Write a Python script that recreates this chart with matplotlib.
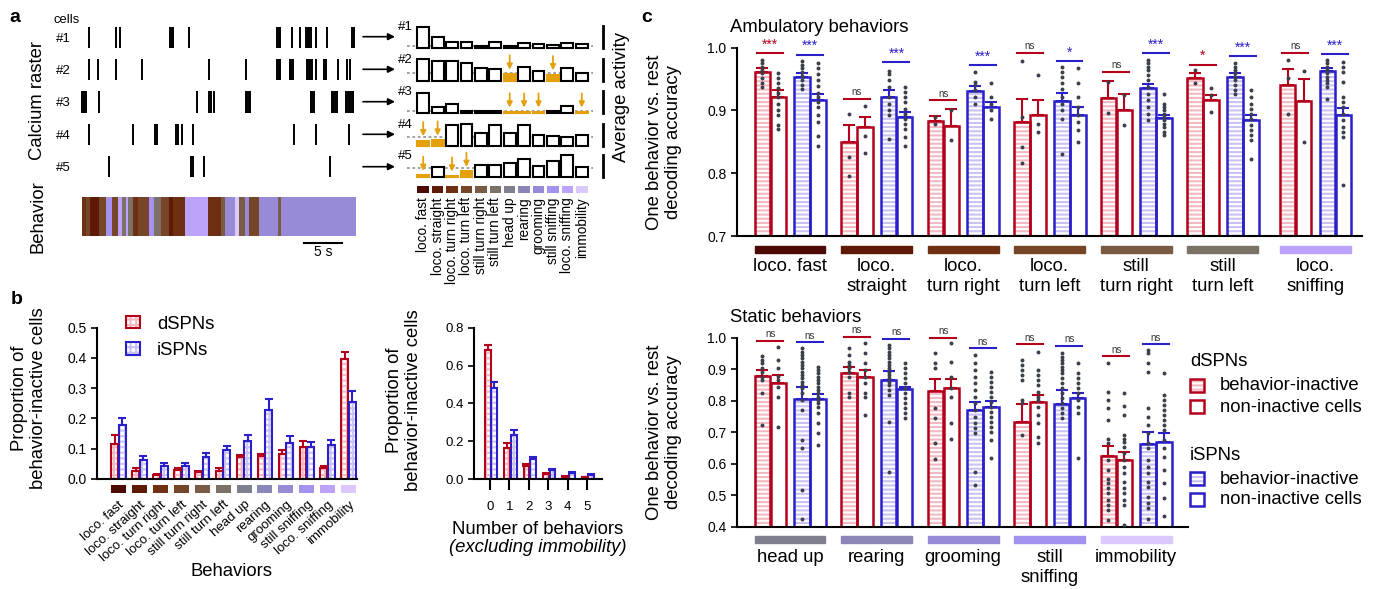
import numpy as np
import matplotlib
matplotlib.use('Agg')
import matplotlib.pyplot as plt
from matplotlib.patches import Patch, Rectangle

plt.rcParams['font.family'] = ['Liberation Sans', 'DejaVu Sans']
plt.rcParams['hatch.linewidth'] = 1.5

W, H = 1377, 589

RED = '#b5001c'
BLUE = '#2b1fc9'
PINK = '#f3b9c1'
LAV = '#c9c2f3'
DOT = '#3b404b'
ORANGE = '#e5a00d'
FS = 13.3

behaviors = ['loco. fast', 'loco. straight', 'loco. turn right', 'loco. turn left',
             'still turn right', 'still turn left', 'head up', 'rearing', 'grooming',
             'still sniffing', 'loco. sniffing', 'immobility']
behavior_colors = ['#4b0a02', '#5e1a06', '#6e2f12', '#774628', '#7a5c44', '#7c7166',
                   '#7e8090', '#8a86b8', '#978bd8', '#a591f0', '#bca2f8', '#dcc9fc']

# ---- panel a: raster (seconds)
cell_labels = ['#1', '#2', '#3', '#4', '#5']
spike_times = [
    [1.05, 4.55, 5.1, 11.7, 11.9, 12.1, 14.15, 25.7, 25.9, 26.1, 27.6, 28.7,
     29.5, 29.7, 29.9, 30.1, 30.7, 32.2, 35.45, 35.7],
    [1.05, 2.2, 4.6, 8.05, 16.8, 21.6, 25.7, 25.9, 26.1, 27.35, 27.55, 27.75,
     29.6, 29.8, 30.0, 30.2, 30.7, 31.8, 32.1, 33.6, 34.8, 35.2],
    [0.05, 0.25, 0.45, 0.65, 2.4, 15.25, 16.8, 17.05, 17.35, 21.55, 21.75, 21.95, 22.1,
     30.1, 30.3, 30.55, 32.8, 33.05, 33.3, 33.45, 34.75, 35.0, 35.25, 35.5, 35.65],
    [1.1, 6.8, 9.7, 10.0, 12.45, 12.75, 13.2, 14.7, 27.9, 30.8, 35.05],
    [3.7, 14.45, 14.65, 16.1, 32.55],
]
behavior_starts = [0.13, 0.66, 1.18, 2.36, 3.28, 4.06, 4.85, 5.37, 5.90, 6.16, 6.82, 7.47,
                   8.91, 9.57, 10.48, 11.53, 12.06, 13.63, 16.64, 18.35, 18.87, 20.18,
                   20.71, 21.49, 22.02, 23.33, 25.82, 26.21]
behavior_ids = [2, 3, 1, 3, 9, 3, 10, 5, 10, 5, 2, 3, 9, 5, 3, 1, 2, 10, 2, 4, 8, 11,
                4, 8, 3, 8, 4, 8]
session_end = 36.04

# ---- panel a: average activity per behavior (normalized)
avg_activity = [
    [0.95, 0.50, 0.24, 0.27, 0.09, 0.24, 0.09, 0.23, 0.18, 0.12, 0.20, 0.17],
    [0.97, 0.91, 0.91, 0.82, 0.58, 0.52, 0.30, 0.64, 0.42, 0.27, 0.58, 0.33],
    [0.94, 0.30, 0.42, 0.09, 0.12, 0.12, 0.06, 0.06, 0.06, 0.09, 0.33, 0.06],
    [0.24, 0.27, 0.94, 1.00, 0.61, 0.97, 0.61, 0.94, 0.48, 0.45, 0.42, 0.52],
    [0.09, 0.48, 0.06, 0.27, 0.58, 0.55, 0.64, 0.82, 0.52, 0.73, 1.00, 0.48],
]
inactive_idx = [[], [6, 9], [6, 7, 8, 11], [0, 1], [0, 2, 3]]
activity_threshold = [0.09, 0.33, 0.10, 0.42, 0.41]

# ---- panel b
d_prop = [0.115, 0.028, 0.012, 0.030, 0.022, 0.027, 0.072, 0.075, 0.082, 0.107, 0.035, 0.395]
d_prop_err = [0.030, 0.007, 0.006, 0.007, 0.006, 0.008, 0.008, 0.007, 0.013, 0.018, 0.007, 0.025]
i_prop = [0.178, 0.062, 0.042, 0.044, 0.073, 0.095, 0.125, 0.228, 0.120, 0.106, 0.112, 0.255]
i_prop_err = [0.025, 0.013, 0.010, 0.009, 0.012, 0.015, 0.022, 0.037, 0.023, 0.016, 0.016, 0.037]

n_behaviors = [0, 1, 2, 3, 4, 5]
d_nb = [0.680, 0.165, 0.068, 0.025, 0.012, 0.008]
d_nb_err = [0.030, 0.025, 0.010, 0.007, 0.003, 0.002]
i_nb = [0.480, 0.235, 0.105, 0.045, 0.030, 0.020]
i_nb_err = [0.035, 0.023, 0.010, 0.010, 0.005, 0.005]

# ---- panel c: order per group = d inactive, d non-inactive, i inactive, i non-inactive
amb_labels = ['loco. fast', 'loco.\nstraight', 'loco.\nturn right', 'loco.\nturn left',
              'still\nturn right', 'still\nturn left', 'loco.\nsniffing']
amb_ids = [0, 1, 2, 3, 4, 5, 10]
amb_mean = [[0.962, 0.922, 0.954, 0.916],
            [0.850, 0.873, 0.922, 0.890],
            [0.884, 0.876, 0.931, 0.905],
            [0.881, 0.893, 0.915, 0.893],
            [0.920, 0.901, 0.935, 0.888],
            [0.952, 0.917, 0.953, 0.885],
            [0.941, 0.915, 0.963, 0.893]]
amb_err = [[0.005, 0.011, 0.005, 0.010],
           [0.027, 0.017, 0.010, 0.008],
           [0.007, 0.026, 0.008, 0.008],
           [0.037, 0.023, 0.013, 0.012],
           [0.027, 0.025, 0.007, 0.005],
           [0.008, 0.008, 0.007, 0.007],
           [0.025, 0.035, 0.004, 0.011]]
amb_dots = [
    [[0.980, 0.975, 0.970, 0.964, 0.959, 0.951, 0.943, 0.937],
     [0.959, 0.951, 0.943, 0.936, 0.928, 0.921, 0.911, 0.901, 0.893, 0.877, 0.870],
     [0.979, 0.972, 0.967, 0.962, 0.955, 0.948, 0.941, 0.934],
     [0.975, 0.967, 0.958, 0.948, 0.939, 0.928, 0.922, 0.913, 0.905, 0.893, 0.881, 0.859, 0.844]],
    [[0.894, 0.826, 0.795],
     [0.907, 0.860, 0.833],
     [0.963, 0.958, 0.948, 0.938, 0.922, 0.911, 0.901, 0.893, 0.854],
     [0.938, 0.930, 0.922, 0.914, 0.903, 0.895, 0.887, 0.879, 0.871, 0.858, 0.844]],
    [[0.890, 0.878],
     [0.901, 0.853],
     [0.962, 0.946, 0.941, 0.933, 0.922, 0.911],
     [0.943, 0.922, 0.911, 0.901, 0.887]],
    [[0.979, 0.890, 0.841, 0.817],
     [0.956, 0.879, 0.866],
     [0.969, 0.962, 0.954, 0.944, 0.934, 0.922, 0.911, 0.901, 0.887, 0.831],
     [0.967, 0.943, 0.922, 0.906, 0.893, 0.882, 0.869, 0.849]],
    [[0.945, 0.896],
     [0.925, 0.877],
     [0.980, 0.975, 0.970, 0.964, 0.956, 0.948, 0.938, 0.927, 0.917, 0.906, 0.895, 0.885],
     [0.927, 0.911, 0.906, 0.901, 0.895, 0.890, 0.885, 0.879, 0.874, 0.866, 0.861]],
    [[0.964, 0.943],
     [0.935, 0.925, 0.898],
     [0.975, 0.970, 0.964, 0.959, 0.954, 0.948, 0.941, 0.933, 0.927],
     [0.933, 0.922, 0.911, 0.903, 0.895, 0.887, 0.877, 0.869, 0.861, 0.853, 0.822]],
    [[0.980, 0.951, 0.895],
     [0.963, 0.850],
     [0.980, 0.975, 0.970, 0.964, 0.959, 0.954, 0.948, 0.943, 0.938, 0.919],
     [0.978, 0.970, 0.962, 0.946, 0.922, 0.914, 0.906, 0.895, 0.885, 0.874, 0.866, 0.858, 0.782]],
]
amb_sig_y = [[0.991, 0.989], [0.919, 0.977], [0.916, 0.972], [0.992, 0.979],
             [0.962, 0.992], [0.973, 0.986], [0.992, 0.990]]
amb_sig = [['***', '***'], ['ns', '***'], ['ns', '***'], ['ns', '*'],
           ['ns', '***'], ['*', '***'], ['ns', '***']]

sta_labels = ['head up', 'rearing', 'grooming', 'still\nsniffing', 'immobility']
sta_ids = [6, 7, 8, 9, 11]
sta_mean = [[0.878, 0.855, 0.804, 0.804],
            [0.889, 0.876, 0.866, 0.836],
            [0.832, 0.841, 0.772, 0.781],
            [0.733, 0.797, 0.788, 0.810],
            [0.625, 0.612, 0.662, 0.670]]
sta_err = [[0.021, 0.026, 0.038, 0.016],
           [0.019, 0.021, 0.029, 0.008],
           [0.036, 0.028, 0.023, 0.019],
           [0.055, 0.021, 0.046, 0.015],
           [0.032, 0.024, 0.038, 0.028]]
sta_dots = [
    [[0.942, 0.929, 0.919, 0.903, 0.892, 0.876, 0.866, 0.825, 0.723],
     [0.971, 0.929, 0.903, 0.878, 0.866, 0.844, 0.813, 0.717],
     [0.966, 0.956, 0.945, 0.935, 0.924, 0.913, 0.903, 0.892, 0.881, 0.871, 0.860, 0.850,
      0.839, 0.823, 0.802, 0.770, 0.675, 0.649, 0.516, 0.426],
     [0.908, 0.897, 0.887, 0.876, 0.866, 0.855, 0.844, 0.834, 0.823, 0.813, 0.802, 0.792,
      0.781, 0.760, 0.728, 0.699, 0.659]],
    [[0.966, 0.945, 0.924, 0.913, 0.903, 0.892, 0.876, 0.823, 0.813],
     [0.982, 0.950, 0.919, 0.897, 0.876, 0.855, 0.823, 0.813, 0.754],
     [0.977, 0.966, 0.956, 0.945, 0.935, 0.924, 0.913, 0.903, 0.892, 0.881, 0.871, 0.860,
      0.850, 0.834, 0.818, 0.733, 0.575],
     [0.919, 0.903, 0.887, 0.871, 0.855, 0.839, 0.823, 0.807, 0.792, 0.776, 0.760, 0.744]],
    [[0.950, 0.919, 0.903, 0.776, 0.744, 0.665, 0.614],
     [0.982, 0.924, 0.876, 0.839, 0.813, 0.730, 0.677],
     [0.945, 0.919, 0.897, 0.876, 0.855, 0.834, 0.813, 0.792, 0.770, 0.749, 0.728, 0.712,
      0.696, 0.575, 0.532],
     [0.892, 0.876, 0.860, 0.844, 0.829, 0.813, 0.797, 0.781, 0.765, 0.749, 0.733, 0.717,
      0.702, 0.675, 0.617]],
    [[0.929, 0.913, 0.897, 0.881, 0.866, 0.802, 0.792, 0.691],
     [0.956, 0.897, 0.881, 0.866, 0.850, 0.829, 0.813, 0.802, 0.781, 0.754, 0.728, 0.686, 0.665],
     [0.950, 0.940, 0.929, 0.919, 0.908, 0.897, 0.887, 0.871, 0.855, 0.839, 0.823, 0.807,
      0.792, 0.776, 0.760, 0.744],
     [0.919, 0.887, 0.871, 0.855, 0.839, 0.823, 0.802, 0.781, 0.760, 0.617]],
    [[0.919, 0.829, 0.802, 0.776, 0.739, 0.680, 0.665, 0.612, 0.580, 0.553, 0.538, 0.522,
      0.506, 0.485, 0.469, 0.453, 0.421],
     [0.825, 0.783, 0.754, 0.691, 0.680, 0.670, 0.654, 0.633, 0.612, 0.590, 0.569, 0.543,
      0.522, 0.506, 0.485, 0.469, 0.405],
     [0.961, 0.950, 0.919, 0.892, 0.776, 0.749, 0.723, 0.696, 0.665, 0.649, 0.612, 0.590,
      0.569, 0.543, 0.527, 0.495, 0.474, 0.458, 0.426],
     [0.887, 0.818, 0.802, 0.786, 0.770, 0.754, 0.739, 0.723, 0.707, 0.675, 0.649, 0.622,
      0.580, 0.538, 0.490, 0.434]],
]
sta_sig_y = [[0.990, 0.985], [1.003, 0.997], [1.000, 0.966], [0.980, 0.975], [0.942, 0.980]]
sta_sig = [['ns', 'ns']] * 5


fig = plt.figure(figsize=(W / 100, H / 100), dpi=100)


def add_ax(x0, y0, x1, y1):
    """Axes from pixel box (top-left origin)."""
    return fig.add_axes([x0 / W, 1 - y1 / H, (x1 - x0) / W, (y1 - y0) / H])


def clean(ax):
    for s in ax.spines.values():
        s.set_visible(False)


# ================= panel a, raster =================
ax = add_ax(81, 21, 356, 183)
ax.eventplot(spike_times, lineoffsets=np.arange(5) + 0.5, linelengths=0.66,
             linewidths=1.4, colors='black')
ax.set_xlim(0, 36)
ax.set_ylim(5, 0)
ax.set_yticks(np.arange(5) + 0.5, cell_labels)
ax.tick_params(left=False, bottom=False, labelbottom=False, labelsize=9.5, pad=4)
clean(ax)

ax = add_ax(81, 197, 356, 236)
ends = behavior_starts[1:] + [session_end]
ax.barh(0.5, np.subtract(ends, behavior_starts), left=behavior_starts, height=1,
        color=[behavior_colors[i] for i in behavior_ids])
ax.set_xlim(0, 36)
ax.set_ylim(0, 1)
ax.axis('off')
ax.plot([29.2, 34.2], [-0.18, -0.18], color='black', lw=1.5, clip_on=False)
ax.text(31.7, -0.42, '5 s', ha='center', va='center', fontsize=10)

# ================= panel a, average activity =================
row_base = [47.7, 80.7, 113.3, 146, 177.3]
for r in range(5):
    ax = add_ax(416, row_base[r] - 25.3, 589, row_base[r])
    x = np.arange(12)
    face = ['white'] * 12
    edge = ['black'] * 12
    for i in inactive_idx[r]:
        face[i] = ORANGE
        edge[i] = ORANGE
    ax.plot([-1.1, 11.8], [activity_threshold[r]] * 2, color='#9a9a9a', lw=1.3,
            ls=(0, (1.5, 1.5)), clip_on=False, zorder=0.5)
    ax.bar(x, avg_activity[r], width=0.82, facecolor=face, edgecolor=edge, lw=1.5,
           clip_on=False, zorder=2)
    for i in inactive_idx[r]:
        tip = avg_activity[r][i] + 0.2
        ax.annotate('', xy=(i, tip), xytext=(i, tip + 0.65),
                    arrowprops=dict(arrowstyle='-|>', color=ORANGE, lw=1.3,
                                    mutation_scale=8, shrinkA=0, shrinkB=0))
    ax.plot([12.5, 12.5], [0, 1], color='black', lw=2, clip_on=False)
    ax.text(-1.25, 0.95, cell_labels[r], ha='center', va='center', fontsize=9.5)
    ax.set_xlim(-0.5, 11.5)
    ax.set_ylim(0, 1.15)
    ax.axis('off')

ax = add_ax(416, 186, 589, 193)
ax.bar(np.arange(12), 1, width=0.8, color=behavior_colors)
ax.set_xlim(-0.5, 11.5)
ax.set_ylim(0, 1)
ax.set_xticks(np.arange(12), behaviors, rotation=90, fontsize=9.8)
ax.set_yticks([])
ax.tick_params(axis='x', length=0, pad=3)
clean(ax)


# ================= panel b =================
def hatched_bar(ax, x, h, w, stripe, edge, hatch, lw, bottom=0):
    ax.bar(x, h, width=w, bottom=bottom, facecolor='white', edgecolor=stripe,
           hatch=hatch, lw=0, zorder=1)
    ax.bar(x, h, width=w, bottom=bottom, fill=False, edgecolor=edge, lw=lw, zorder=2)


def style_axes(ax):
    ax.spines['top'].set_visible(False)
    ax.spines['right'].set_visible(False)
    ax.spines['left'].set_linewidth(1.5)
    ax.spines['bottom'].set_linewidth(1.5)


ax = add_ax(97, 327.7, 357, 479)
xb = np.arange(12)
hatched_bar(ax, xb - 0.18, d_prop, 0.33, PINK, RED, '+++', 1.5)
hatched_bar(ax, xb + 0.18, i_prop, 0.33, LAV, BLUE, '+++', 1.5)
ax.errorbar(xb - 0.18, d_prop, yerr=[np.zeros(12), d_prop_err], fmt='none', ecolor=RED,
            elinewidth=1.5, capsize=3, capthick=1.5, zorder=3)
ax.errorbar(xb + 0.18, i_prop, yerr=[np.zeros(12), i_prop_err], fmt='none', ecolor=BLUE,
            elinewidth=1.5, capsize=3, capthick=1.5, zorder=3)
ax.set_xlim(-1.03, 11.4)
ax.set_ylim(0, 0.5)
ax.set_yticks(np.arange(0, 0.51, 0.1), ['0.0', '0.1', '0.2', '0.3', '0.4', '0.5'])
ax.set_xticks([])
ax.tick_params(axis='y', labelsize=10, length=4, width=1.2)
style_axes(ax)
handles = [(Patch(facecolor='white', edgecolor=PINK, hatch='+++', lw=0),
            Patch(facecolor='none', edgecolor=RED, lw=1.5)),
           (Patch(facecolor='white', edgecolor=LAV, hatch='+++', lw=0),
            Patch(facecolor='none', edgecolor=BLUE, lw=1.5))]
ax.legend(handles, ['dSPNs', 'iSPNs'], loc='upper left', bbox_to_anchor=(0.11, 1.08),
          frameon=False, fontsize=FS, handlelength=0.8, handleheight=0.65,
          handletextpad=0.9, labelspacing=0.5, borderpad=0, borderaxespad=0)

ax = add_ax(97, 485, 357, 493)
ax.bar(xb, 1, width=0.72, color=behavior_colors)
ax.set_xlim(-1.03, 11.4)
ax.set_ylim(0, 1)
ax.set_xticks(xb, behaviors, rotation=42, ha='right', rotation_mode='anchor', fontsize=9.5)
ax.set_yticks([])
ax.tick_params(axis='x', length=0, pad=4)
clean(ax)

ax = add_ax(474, 327.7, 602, 479)
xn = np.array(n_behaviors)
hatched_bar(ax, xn - 0.12, d_nb, 0.3, PINK, RED, '+++', 1.5)
hatched_bar(ax, xn + 0.22, i_nb, 0.3, LAV, BLUE, '+++', 1.5)
ax.errorbar(xn - 0.12, d_nb, yerr=[np.zeros(6), d_nb_err], fmt='none', ecolor=RED,
            elinewidth=1.5, capsize=3, capthick=1.5, zorder=3)
ax.errorbar(xn + 0.22, i_nb, yerr=[np.zeros(6), i_nb_err], fmt='none', ecolor=BLUE,
            elinewidth=1.5, capsize=3, capthick=1.5, zorder=3)
ax.set_xlim(-0.82, 5.77)
ax.set_ylim(0, 0.8)
ax.set_yticks([0, 0.2, 0.4, 0.6, 0.8], ['0.0', '0.2', '0.4', '0.6', '0.8'])
ax.set_xticks(xn)
ax.tick_params(axis='y', labelsize=9.5, length=4, width=1.2)
ax.tick_params(axis='x', labelsize=9.5, length=8, width=1.5, pad=8)
style_axes(ax)


# ================= panel c =================
bar_offsets = [-0.32, -0.135, 0.14, 0.325]


def draw_decoding(ax, pos, means, errs, dots, sig_y, sig_txt, ids, labels, ymin,
                  strip_y):
    for g, x0 in enumerate(pos):
        for k in range(4):
            x = x0 + bar_offsets[k]
            col = RED if k < 2 else BLUE
            h = means[g][k] - ymin
            if k % 2 == 0:
                ax.bar(x, h, bottom=ymin, width=0.18, facecolor='white',
                       edgecolor=PINK if k < 2 else LAV, hatch='----', lw=0, zorder=1)
            ax.bar(x, h, bottom=ymin, width=0.18, fill=False, edgecolor=col, lw=1.8,
                   zorder=2)
            ax.errorbar(x, means[g][k], yerr=[[0], [errs[g][k]]], fmt='none', ecolor=col,
                        elinewidth=1.5, capsize=4, capthick=1.5, zorder=3)
            ax.scatter(np.full(len(dots[g][k]), x), dots[g][k], s=8, color=DOT, lw=0,
                       zorder=4)
        for j, col in enumerate([RED, BLUE]):
            xa = x0 - 0.38 if j == 0 else x0 + 0.08
            ax.plot([xa, xa + 0.3], [sig_y[g][j]] * 2, color=col, lw=1.5, clip_on=False)
            txt = sig_txt[g][j]
            ax.annotate(txt, (xa + 0.15, sig_y[g][j]), xytext=(0, 1),
                        textcoords='offset points', ha='center', va='bottom',
                        fontsize=7 if txt == 'ns' else 10,
                        color='#333333' if txt == 'ns' else col, annotation_clip=False)
        ax.add_patch(Rectangle((x0 - 0.41, strip_y[0]), 0.82, strip_y[1],
                               transform=ax.get_xaxis_transform(),
                               color=behavior_colors[ids[g]], clip_on=False))
    ax.set_xticks(pos, labels)
    ax.tick_params(axis='x', length=0, pad=16, labelsize=FS)
    ax.tick_params(axis='y', labelsize=10, length=4, width=1.2)
    style_axes(ax)


ax = add_ax(736.7, 47.7, 1362, 236)
amb_pos = [0, 1, 2, 3, 4, 5, 6.07]
draw_decoding(ax, amb_pos, amb_mean, amb_err, amb_dots, amb_sig_y, amb_sig, amb_ids,
              amb_labels, 0.7, (-0.09, 0.037))
ax.set_xlim(-0.616, 6.61)
ax.set_ylim(0.7, 1.0)
ax.set_yticks([0.7, 0.8, 0.9, 1.0], ['0.7', '0.8', '0.9', '1.0'])

ax = add_ax(736.7, 337.7, 1188, 526.7)
sta_pos = [0, 1, 2, 3, 4]
draw_decoding(ax, sta_pos, sta_mean, sta_err, sta_dots, sta_sig_y, sta_sig, sta_ids,
              sta_labels, 0.4, (-0.087, 0.038))
ax.set_xlim(-0.616, 4.6)
ax.set_ylim(0.4, 1.0)
ax.set_yticks(np.arange(0.4, 1.01, 0.1), ['0.4', '0.5', '0.6', '0.7', '0.8', '0.9', '1.0'])

# ================= text overlay =================
ov = fig.add_axes([0, 0, 1, 1])
ov.set_xlim(0, W)
ov.set_ylim(H, 0)
ov.axis('off')

for letter, (lx, ly) in zip('abc', [(15, 17), (17, 300), (647, 17)]):
    ov.text(lx, ly, letter, fontsize=14, fontweight='bold', ha='center', va='center')

ov.text(53, 20, 'cells', fontsize=9.4, va='center')
ov.text(38, 100, 'Calcium raster', rotation=90, fontsize=FS, ha='center', va='center')
ov.text(38, 217, 'Behavior', rotation=90, fontsize=FS, ha='center', va='center')
ov.text(622, 97, 'Average activity', rotation=90, fontsize=FS, ha='center', va='center')
for yy in [36.7, 69.3, 101.7, 134.3, 166.7]:
    ov.annotate('', xy=(395, yy), xytext=(363, yy),
                arrowprops=dict(arrowstyle='-|>', color='black', lw=1.2,
                                mutation_scale=10, shrinkA=0, shrinkB=0))

ov.text(29, 398, 'Proportion of\nbehavior-inactive cells', rotation=90, fontsize=FS,
        ha='center', va='center')
ov.text(232, 572, 'Behaviors', fontsize=FS, ha='center', va='center')
ov.text(404, 400, 'Proportion of\nbehavior-inactive cells', rotation=90, fontsize=FS,
        ha='center', va='center')
ov.text(538, 529, 'Number of behaviors', fontsize=FS, ha='center', va='center')
ov.text(538, 548, '(excluding immobility)', fontsize=FS, style='italic',
        ha='center', va='center')

ov.text(730, 27, 'Ambulatory behaviors', fontsize=FS, va='center')
ov.text(730, 317, 'Static behaviors', fontsize=FS, va='center')
for yy in [142, 432]:
    ov.text(664, yy, 'One behavior vs. rest\ndecoding accuracy', rotation=90,
            fontsize=FS, ha='center', va='center')

for title, ty, col, stripe in [('dSPNs', 362, RED, PINK), ('iSPNs', 455, BLUE, LAV)]:
    ov.text(1190, ty, title, fontsize=FS, va='center')
    ov.add_patch(Rectangle((1190, ty + 17), 14, 13, facecolor='white', edgecolor=stripe,
                           hatch='----', lw=0))
    ov.add_patch(Rectangle((1190, ty + 17), 14, 13, fill=False, edgecolor=col, lw=1.8))
    ov.add_patch(Rectangle((1190, ty + 38), 14, 13, fill=False, edgecolor=col, lw=1.8))
    ov.text(1220, ty + 24, 'behavior-inactive', fontsize=FS, va='center')
    ov.text(1220, ty + 45, 'non-inactive cells', fontsize=FS, va='center')

fig.savefig('out.png', dpi=100)
